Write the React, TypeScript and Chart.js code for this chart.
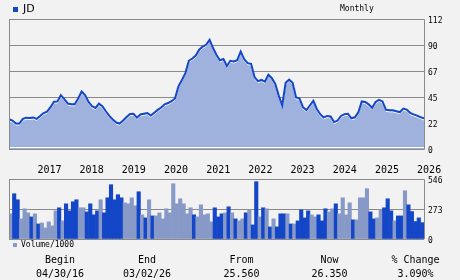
import React, { useEffect, useRef } from "react";
import { Chart, registerables } from "chart.js";

Chart.register(...registerables);

const BEGIN = new Date(2016, 3, 30);
const END = new Date(2026, 2, 2);
const DAY = 86400000;
const spanDays = (END.getTime() - BEGIN.getTime()) / DAY;

// Monthly closing prices, evenly spaced from 04/30/16 to 03/02/26
const priceValues = [
  25.6, 24.5, 22.0, 21.9, 26.0, 27.0, 26.8, 27.2, 26.0, 28.4,
  31.0, 32.2, 36.0, 40.8, 41.0, 46.3, 43.0, 39.2, 38.5, 38.5,
  43.5, 49.5, 46.5, 40.5, 37.0, 35.4, 39.0, 36.8, 32.5, 28.5,
  25.5, 22.8, 21.9, 24.5, 27.5, 30.1, 30.3, 27.0, 29.8, 30.4,
  31.0, 28.8, 31.2, 33.7, 35.8, 38.5, 39.6, 41.2, 43.5, 54.0,
  59.5, 65.4, 76.0, 78.0, 80.5, 85.5, 88.2, 89.8, 94.0, 87.0,
  81.0, 76.5, 77.5, 71.5, 76.0, 75.5, 76.5, 84.0, 77.5, 74.0,
  73.4, 62.0, 58.5, 59.5, 58.0, 64.0, 61.0, 56.0, 46.0, 37.5,
  57.0, 59.7, 57.0, 44.5, 43.5, 36.0, 33.5, 37.5, 41.5, 34.5,
  30.0, 27.2, 28.5, 28.0, 23.2, 24.5, 28.5, 30.0, 30.4, 26.5,
  27.3, 31.5, 41.0, 40.5, 38.5, 35.5, 40.5, 42.4, 41.0, 33.8,
  33.3, 33.3, 32.6, 31.8, 34.8, 34.0, 31.0, 29.8, 28.8, 27.5,
  26.35,
];

// Monthly volume (thousands)
const volumeValues = [
  229, 412, 357, 183, 275, 238, 201, 229, 137, 146,
  101, 156, 119, 256, 284, 165, 320, 256, 339, 357,
  284, 284, 247, 320, 220, 256, 357, 238, 375, 494,
  357, 403, 375, 329, 320, 375, 302, 430, 220, 192,
  357, 210, 210, 238, 183, 275, 238, 503, 320, 366,
  320, 229, 284, 220, 201, 311, 220, 229, 156, 284,
  201, 229, 238, 293, 238, 183, 165, 183, 238, 265,
  128, 522, 201, 284, 275, 110, 183, 110, 229, 229,
  229, 137, 137, 165, 265, 192, 256, 220, 201, 220,
  165, 275, 247, 275, 320, 229, 375, 220, 329, 174,
  174, 375, 375, 458, 247, 183, 192, 265, 284, 366,
  256, 165, 210, 210, 439, 311, 250, 159, 192, 149,
];

// 1 = dark bar, 0 = light bar
const volumeUp = [
  0, 1, 1, 0, 0, 0, 1, 0, 1, 0,
  0, 0, 0, 0, 1, 0, 1, 1, 1, 1,
  0, 0, 1, 1, 1, 1, 0, 1, 1, 1,
  1, 1, 1, 0, 0, 0, 0, 1, 0, 1,
  0, 1, 0, 0, 0, 0, 0, 0, 0, 0,
  0, 0, 0, 1, 0, 0, 0, 0, 0, 1,
  1, 1, 0, 1, 0, 1, 0, 0, 1, 0,
  1, 1, 0, 1, 0, 1, 0, 1, 1, 1,
  0, 1, 0, 1, 1, 1, 1, 0, 0, 1,
  1, 1, 0, 0, 1, 0, 0, 0, 0, 1,
  0, 0, 0, 0, 1, 1, 0, 0, 1, 1,
  1, 0, 1, 1, 0, 1, 1, 1, 1, 1,
];

const yearLabels = ["2017", "2018", "2019", "2020", "2021", "2022", "2023", "2024", "2025", "2026"];
const priceTicks = [0, 22.4, 44.8, 67.2, 89.6, 112];
const priceTickLabels = ["0", "22", "45", "67", "90", "112"];
const volumeTicks = [0, 273, 546];
const volumeTickLabels = ["0", "273", "546"];
const summaryHeads = ["Begin", "End", "From", "Now", "% Change"];
const summaryValues = ["04/30/16", "03/02/26", "25.560", "26.350", "3.090%"];

const BG = "#f2f2f2";
const DARK = "#1446c8";
const LIGHT = "#8799c6";
const FILL = "#9fb1dd";
const GRAY = "#8a8a8a";
const MONO = "'DejaVu Sans Mono', monospace";

const framePlugin = {
  id: "frame",
  afterDatasetsDraw(chart: any, _args: any, opts: any) {
    const { ctx, chartArea: a } = chart;
    ctx.save();
    if (opts.baseline) {
      ctx.strokeStyle = "#ffffff";
      ctx.lineWidth = 1;
      ctx.beginPath();
      ctx.moveTo(a.left, a.bottom - 1.5);
      ctx.lineTo(a.right, a.bottom - 1.5);
      ctx.stroke();
    }
    ctx.strokeStyle = GRAY;
    ctx.lineWidth = 1;
    ctx.beginPath();
    const l = Math.round(a.left) + 0.5;
    const r = Math.round(a.right) + 0.5;
    const t = Math.round(a.top) + 0.5;
    const b = Math.round(a.bottom) + 0.5;
    ctx.moveTo(l, opts.bottomLine ? b : Math.round(a.bottom));
    ctx.lineTo(l, t);
    ctx.lineTo(r, t);
    ctx.lineTo(r, opts.bottomLine ? b : Math.round(a.bottom));
    if (opts.bottomLine) ctx.lineTo(l, b);
    ctx.stroke();
    ctx.restore();
  },
};

const shiftPlugin = {
  id: "shiftLine",
  beforeDatasetDraw(chart: any, args: any) {
    if (chart.data.datasets[args.index].shiftDown) {
      chart.ctx.save();
      chart.ctx.translate(0, 1.5);
    }
  },
  afterDatasetDraw(chart: any, args: any) {
    if (chart.data.datasets[args.index].shiftDown) chart.ctx.restore();
  },
};

export default function App() {
  const priceRef = useRef<HTMLCanvasElement>(null);
  const volRef = useRef<HTMLCanvasElement>(null);

  useEffect(() => {
    document.body.style.margin = "0";
    document.body.style.background = BG;

    const pts = priceValues.map((v, j) => ({ x: (j * spanDays) / (priceValues.length - 1), y: v }));
    const yearTickValues = yearLabels.map((y) => (new Date(+y, 0, 1).getTime() - BEGIN.getTime()) / DAY);

    const pc = new Chart(priceRef.current as HTMLCanvasElement, {
      type: "line",
      data: {
        datasets: [
          { data: pts, borderColor: DARK, borderWidth: 2, pointRadius: 0, fill: false, order: 1, tension: 0 } as any,
          { data: pts, borderColor: "#ffffff", borderWidth: 1, pointRadius: 0, fill: false, order: 2, shiftDown: true, tension: 0 } as any,
          { data: pts, borderWidth: 0, borderColor: "rgba(0,0,0,0)", backgroundColor: FILL, pointRadius: 0, fill: "origin", order: 3, tension: 0 } as any,
        ],
      },
      options: {
        animation: false,
        responsive: false,
        devicePixelRatio: 1,
        events: [],
        layout: { padding: { left: 9, top: 19, right: 0, bottom: 0 } },
        plugins: {
          legend: { display: false },
          tooltip: { enabled: false },
          frame: { baseline: true, bottomLine: true },
        } as any,
        scales: {
          x: {
            type: "linear",
            min: 0,
            max: spanDays,
            position: "bottom",
            grid: { display: false, drawTicks: false },
            border: { display: false },
            afterBuildTicks: (s: any) => {
              s.ticks = yearTickValues.map((v) => ({ value: v }));
            },
            afterFit: (s: any) => {
              s.height = 131;
            },
            ticks: {
              autoSkip: false,
              maxRotation: 0,
              minRotation: 0,
              align: "start",
              padding: 15,
              color: "#000",
              font: { family: MONO, size: 10 },
              callback: (_v: any, i: number) => yearLabels[i],
            },
          },
          y: {
            position: "right",
            min: 0,
            max: 112,
            grid: { color: GRAY, lineWidth: 1, drawTicks: false },
            border: { display: false },
            afterBuildTicks: (s: any) => {
              s.ticks = priceTicks.map((v) => ({ value: v }));
            },
            afterFit: (s: any) => {
              s.width = 36;
            },
            ticks: {
              autoSkip: false,
              padding: 4,
              labelOffset: 2,
              color: "#000",
              font: { family: MONO, size: 8 },
              callback: (_v: any, i: number) => priceTickLabels[i],
            },
          },
        },
      },
      plugins: [framePlugin, shiftPlugin],
    } as any);

    const vc = new Chart(volRef.current as HTMLCanvasElement, {
      type: "bar",
      data: {
        labels: volumeValues.map((_, i) => String(i)),
        datasets: [
          {
            data: volumeValues,
            backgroundColor: volumeUp.map((u) => (u ? DARK : LIGHT)),
            borderWidth: 0,
            barPercentage: 1,
            categoryPercentage: 1,
          },
        ],
      },
      options: {
        animation: false,
        responsive: false,
        devicePixelRatio: 1,
        events: [],
        layout: { padding: { left: 9, top: 179, right: 0, bottom: 41 } },
        plugins: {
          legend: { display: false },
          tooltip: { enabled: false },
          frame: { baseline: false, bottomLine: false },
        } as any,
        scales: {
          x: { display: false, offset: true },
          y: {
            position: "right",
            min: 0,
            max: 546,
            grid: { color: GRAY, lineWidth: 1, drawTicks: false },
            border: { display: false },
            afterBuildTicks: (s: any) => {
              s.ticks = volumeTicks.map((v) => ({ value: v }));
            },
            afterFit: (s: any) => {
              s.width = 36;
            },
            ticks: {
              autoSkip: false,
              padding: 4,
              labelOffset: 2,
              color: "#000",
              font: { family: MONO, size: 8 },
              callback: (_v: any, i: number) => volumeTickLabels[i],
            },
          },
        },
      },
      plugins: [framePlugin],
    } as any);

    return () => {
      pc.destroy();
      vc.destroy();
    };
  }, []);

  const centers = [60, 147, 241.5, 329.5, 415.5];
  const abs = (extra: React.CSSProperties): React.CSSProperties => ({
    position: "absolute",
    whiteSpace: "nowrap",
    color: "#000",
    ...extra,
  });

  return (
    <div style={{ position: "relative", width: 460, height: 280, background: BG, overflow: "hidden" }}>
      <canvas ref={priceRef} width={460} height={280} style={{ position: "absolute", left: 0, top: 0 }} />
      <canvas ref={volRef} width={460} height={280} style={{ position: "absolute", left: 0, top: 0 }} />
      <div style={abs({ left: 13, top: 7, width: 5, height: 5, background: DARK })} />
      <div style={abs({ left: 23, top: 3.4, fontFamily: "'DejaVu Sans', sans-serif", fontSize: 11, lineHeight: "11px" })}>JD</div>
      <div style={abs({ left: 340, top: 4.9, fontFamily: MONO, fontSize: 8, lineHeight: "8px" })}>Monthly</div>
      <div style={abs({ left: 13, top: 243, width: 4, height: 4, background: LIGHT })} />
      <div style={abs({ left: 21, top: 240.5, fontFamily: MONO, fontSize: 8, lineHeight: "8px" })}>Volume/1000</div>
      {summaryHeads.map((h, i) => (
        <div
          key={"h" + i}
          style={abs({ left: centers[i], top: 255, transform: "translateX(-50%)", fontFamily: MONO, fontSize: 10, lineHeight: "10px" })}
        >
          {h}
        </div>
      ))}
      {summaryValues.map((v, i) => (
        <div
          key={"v" + i}
          style={abs({ left: centers[i], top: 269, transform: "translateX(-50%)", fontFamily: MONO, fontSize: 10, lineHeight: "10px" })}
        >
          {v}
        </div>
      ))}
    </div>
  );
}
